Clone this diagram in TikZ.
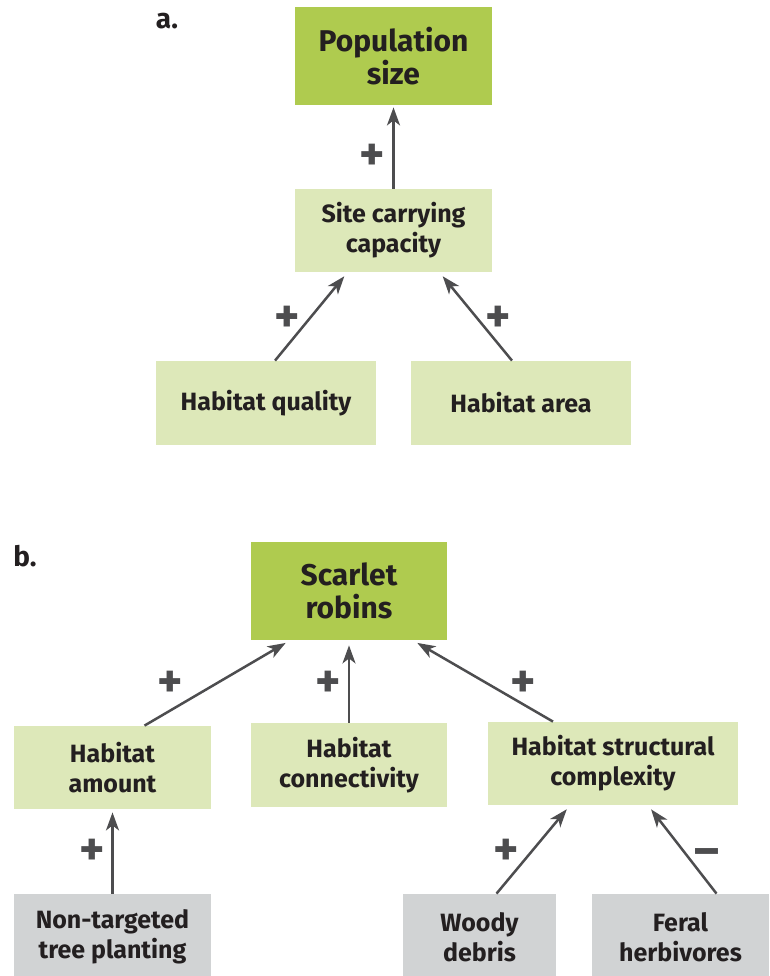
\documentclass[tikz,border=0pt]{standalone}
\usepackage{fontspec}
\setmainfont{Fira Sans}
\usetikzlibrary{arrows.meta}
\definecolor{darkbox}{HTML}{AFCB4F}
\definecolor{lightbox}{HTML}{DDE8B9}
\definecolor{greybox}{HTML}{D1D3D4}
\definecolor{arrowgrey}{HTML}{4D4D4F}
\definecolor{txt}{HTML}{231F20}
\begin{document}
\begin{tikzpicture}[x=0.5pt,y=-0.5pt]
      \useasboundingbox (0,0) rectangle (770,976);
      \tikzstyle{every node}=[text=txt,align=center,inner sep=0pt,font=\bfseries\fontsize{12.5}{15}\selectfont]
      \tikzstyle{keybox}=[fill=darkbox,font=\bfseries\fontsize{15}{16.5}\selectfont]
      \tikzstyle{midbox}=[fill=lightbox]
      \tikzstyle{basebox}=[fill=greybox]
      \tikzstyle{signlbl}=[text=arrowgrey,font=\bfseries\fontsize{24}{24}\selectfont]
      \tikzstyle{link}=[-{Stealth[length=9pt,width=6.5pt,inset=2.5pt]},arrowgrey,line width=1.25pt,shorten >=2.5pt]

      % a.
      \node[font=\bfseries\fontsize{14}{14}\selectfont] (la) at (167,21) {a.};
      \node[keybox,minimum width=98.5pt,minimum height=49pt] (pop) at (393.5,56) {Population\\size};
      \node[midbox,minimum width=98.5pt,minimum height=41.5pt] (scc) at (393.5,230.5) {Site carrying\\capacity};
      \node[midbox,minimum width=110pt,minimum height=42pt] (hq) at (266,403) {Habitat quality};
      \node[midbox,minimum width=110pt,minimum height=42pt] (ha) at (521,403) {Habitat area};

      \draw[link,shorten >=1pt] (scc.north) -- (pop.south);
      \draw[link] ([xshift=4.5pt]hq.north) -- ([xshift=-23pt]scc.south);
      \draw[link] ([xshift=-4.5pt]ha.north) -- ([xshift=23pt]scc.south);

      \node[signlbl] (s1) at (372,157) {+};
      \node[signlbl] (s2) at (287,319) {+};
      \node[signlbl] (s3) at (498,319) {+};

      % b.
      \node[font=\bfseries\fontsize{14}{14}\selectfont] (lb) at (25,556) {b.};
      \node[keybox,minimum width=98pt,minimum height=49pt] (sr) at (349,591) {Scarlet\\robins};
      \node[midbox,minimum width=98.5pt,minimum height=41.5pt] (ham) at (112.5,767.5) {Habitat\\amount};
      \node[midbox,minimum width=98pt,minimum height=42pt] (hc) at (349,765) {Habitat\\connectivity};
      \node[midbox,minimum width=125pt,minimum height=41.5pt] (hsc) at (613,763.5) {Habitat structural\\complexity};
      \node[basebox,minimum width=98.5pt,minimum height=43pt] (ntp) at (112.5,937) {Non-targeted\\tree planting};
      \node[basebox,minimum width=76.5pt,minimum height=43pt] (wd) at (479.5,937) {Woody\\debris};
      \node[basebox,minimum width=88.5pt,minimum height=43pt] (fh) at (680.5,937) {Feral\\herbivores};

      \draw[link] ([xshift=16pt]ham.north) -- ([xshift=-29.5pt]sr.south);
      \draw[link] (hc.north) -- (sr.south);
      \draw[link] ([xshift=-30pt]hsc.north) -- ([xshift=32pt]sr.south);
      \draw[link,shorten >=1.5pt] (ntp.north) -- (ham.south);
      \draw[link] ([xshift=8.5pt]wd.north) -- ([xshift=-21.5pt]hsc.south);
      \draw[link] ([xshift=18pt]fh.north) -- ([xshift=17.5pt]hsc.south);

      \node[signlbl] (s4) at (170,684) {+};
      \node[signlbl] (s5) at (328,684) {+};
      \node[signlbl] (s6) at (523,684) {+};
      \node[signlbl] (s7) at (92,852) {+};
      \node[signlbl] (s8) at (506,852) {+};
      \node[signlbl] (s9) at (707,858) {–};
    \end{tikzpicture}
\end{document}
